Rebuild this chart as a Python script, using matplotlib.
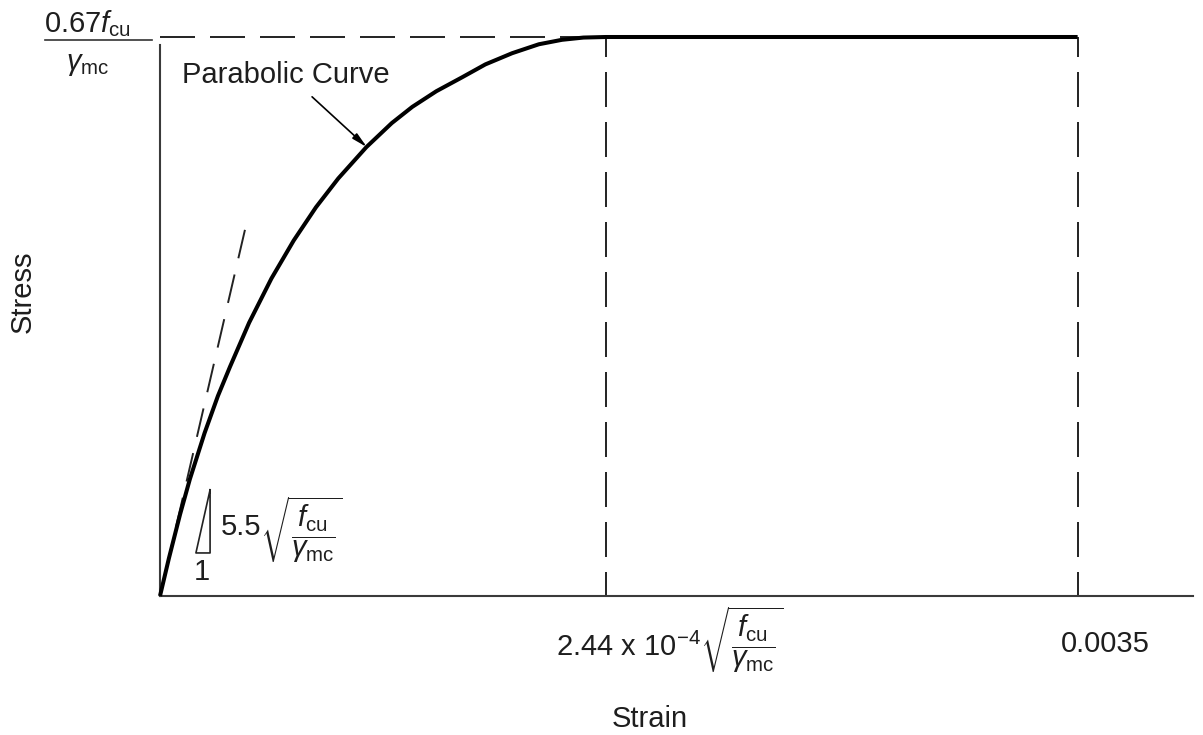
import matplotlib
matplotlib.use("Agg")
import matplotlib.pyplot as plt

# ---- data -------------------------------------------------------------
# Strain and normalised stress (stress / (0.67 f_cu / gamma_mc)) on the parabolic branch
curve_strain = [0.0, 0.000034, 0.0000765, 0.0001139, 0.00017, 0.000221,
                0.0002669, 0.00034, 0.000425, 0.00051, 0.000595, 0.00068,
                0.0007871, 0.000884, 0.0009622, 0.001054, 0.0011526, 0.001241,
                0.001343, 0.001445, 0.0015334, 0.001615, 0.0017]
curve_stress = [0.0, 0.0675, 0.146, 0.209, 0.2915, 0.358,
                0.410, 0.489, 0.568, 0.636, 0.6955, 0.747,
                0.803, 0.846, 0.875, 0.903, 0.928, 0.951,
                0.971, 0.987, 0.995, 0.999, 1.0]
peak_strain = 0.0017
ultimate_strain = 0.0035
peak_stress = 1.0
# initial tangent (modulus 5.5 sqrt(f_cu / gamma_mc))
tangent_strain = [0.000324, 0.0]
tangent_stress = [0.655, 0.0]
# small slope triangle next to the origin
triangle_strain = [0.000191, 0.000191, 0.000137, 0.000191]
triangle_stress = [0.190, 0.077, 0.077, 0.190]
# point on the curve the label arrow points to
arrow_tip = (0.000789, 0.803)
arrow_tail = (0.000580, 0.893)

x_axis_label = "Strain"
y_axis_label = "Stress"
curve_label = "Parabolic Curve"
peak_strain_label = r"$2.44\ \mathrm{x}\ 10^{-4}\sqrt{\dfrac{f_{\mathrm{cu}}}{\gamma_{\mathrm{mc}}}}$"
ultimate_strain_label = "0.0035"
peak_stress_num = r"$0.67f_{\mathrm{cu}}$"
peak_stress_den = r"$\gamma_{\mathrm{mc}}$"
modulus_coef = "5.5"
modulus_root = r"$\sqrt{\dfrac{f_{\mathrm{cu}}}{\gamma_{\mathrm{mc}}}}$"
run_label = "1"

# ---- style ------------------------------------------------------------
W, H, DPI = 1203, 735, 100
plt.rcParams["font.family"] = ["Liberation Sans", "DejaVu Sans"]
plt.rcParams["mathtext.fontset"] = "custom"
plt.rcParams["mathtext.rm"] = "Liberation Sans"
plt.rcParams["mathtext.it"] = "Liberation Sans:italic"
plt.rcParams["mathtext.bf"] = "Liberation Sans:bold"
plt.rcParams["lines.scale_dashes"] = False

FS = 21
TXT = "#1e1e1e"
DASH = (25.2, 10.8)


def fig_xy(px, py):
    """Figure pixel position measured from the top-left corner -> figure fraction."""
    return px / W, 1 - py / H


fig = plt.figure(figsize=(W / DPI, H / DPI), dpi=DPI)
ax = fig.add_axes([160 / W, 139 / H, 1033 / W, 1.02 * 559 / H])
ax.set_xlim(0, 0.00394)
ax.set_ylim(0, 1.02)
for side in ("top", "right"):
    ax.spines[side].set_visible(False)
for side in ("left", "bottom"):
    ax.spines[side].set_color("#3a3a3a")
    ax.spines[side].set_linewidth(1.5)
ax.spines["left"].set_bounds(0, 0.986)
ax.set_xticks([])
ax.set_yticks([])
ax.patch.set_alpha(0)

# dashed guide lines
ax.plot([0, peak_strain], [peak_stress, peak_stress], color="#222222", lw=1.4,
        linestyle=(0, DASH), clip_on=False, zorder=2)
for xs in (peak_strain, ultimate_strain):
    ax.plot([xs, xs], [peak_stress, 0], color="#222222", lw=1.4,
            linestyle=(10.8, DASH), clip_on=False, zorder=2)
ax.plot(tangent_strain, tangent_stress, color="#222222", lw=1.4,
        linestyle=(0, (21, 12)), clip_on=False, zorder=2)

# stress-strain curve: parabola then plateau
ax.plot(curve_strain + [ultimate_strain], curve_stress + [peak_stress],
        color="black", lw=2.9, solid_joinstyle="round", solid_capstyle="butt",
        clip_on=False, zorder=4)

# slope triangle
ax.plot(triangle_strain, triangle_stress, color="#222222", lw=1.2, clip_on=False, zorder=3)

# label arrow
ax.annotate("", xy=arrow_tip, xytext=arrow_tail,
            arrowprops=dict(arrowstyle="-|>,head_length=0.9,head_width=0.2",
                            color="black", lw=1.2, shrinkA=0, shrinkB=0))

# texts
fig.text(*fig_xy(182, 83), curve_label, fontsize=FS, color=TXT, va="baseline", ha="left")
fig.text(*fig_xy(23, 292), y_axis_label, fontsize=FS, color=TXT, rotation=90,
         va="center", ha="center")
fig.text(*fig_xy(650, 727), x_axis_label, fontsize=FS, color=TXT, va="baseline", ha="center")

ax.annotate(ultimate_strain_label, xy=(ultimate_strain, 0), xytext=(28, -56),
            textcoords="offset pixels", fontsize=FS, color=TXT, ha="center", va="baseline")
ax.annotate(peak_strain_label, xy=(peak_strain, 0), xytext=(-50, -44),
            textcoords="offset pixels", fontsize=FS, color=TXT, ha="left", va="center")

# peak stress as a stacked fraction at the top of the stress axis
fig.text(*fig_xy(44, 32), peak_stress_num, fontsize=FS, color=TXT, va="baseline", ha="left")
fig.add_artist(plt.Line2D([45 / W, 152 / W], [1 - 40 / H, 1 - 40 / H],
                          color="#333333", lw=1.2))
fig.text(*fig_xy(66, 70), peak_stress_den, fontsize=FS, color=TXT, va="baseline", ha="left")

# modulus annotation
fig.text(*fig_xy(221, 535), modulus_coef, fontsize=FS, color=TXT, va="baseline", ha="left")
fig.text(*fig_xy(260, 530), modulus_root, fontsize=FS, color=TXT, va="center", ha="left")
fig.text(*fig_xy(202, 580), run_label, fontsize=FS, color=TXT, va="baseline", ha="center")

fig.savefig("out.png", dpi=DPI, facecolor="white")
